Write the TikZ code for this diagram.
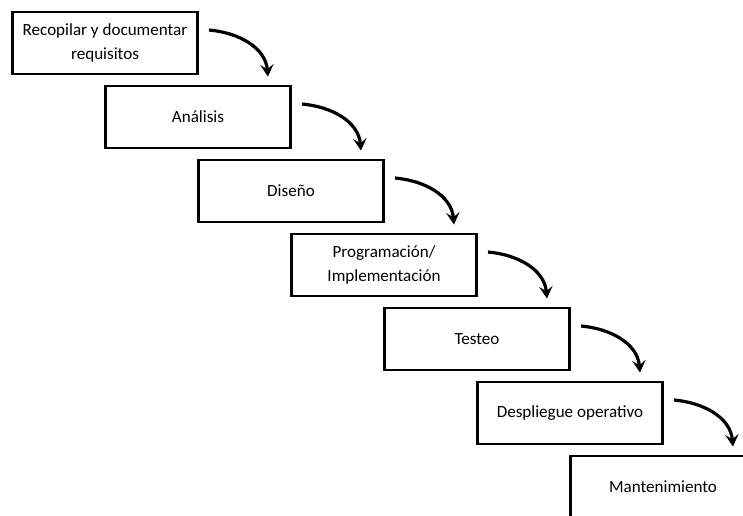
\documentclass[tikz,border=0pt]{standalone}
\usepackage{fontspec}
\setmainfont{Carlito}
\usetikzlibrary{arrows.meta}
\begin{document}
\begin{tikzpicture}[x=0.75pt, y=-0.75pt, node distance=55.5pt,
  box/.style = {draw, line width=2.2pt, minimum width=138.75pt, minimum height=46.5pt, inner sep=0pt, align=center, font=\fontsize{12.8}{18}\selectfont},
  flow/.style = {-{Stealth[length=9pt, width=10pt, inset=3.5pt]}, line width=2.4pt}]
\useasboundingbox (0,0) rectangle (743,515);
\node[box] (1) at (105,43) {Recopilar y documentar\\requisitos};
\node[box] (2) [below of=1, xshift=69.75pt] {Análisis};
\node[box] (3) [below of=2, xshift=69.75pt] {Diseño};
\node[box] (4) [below of=3, xshift=69.75pt] {Programación/\\Implementación};
\node[box] (5) [below of=4, xshift=69.75pt] {Testeo};
\node[box] (6) [below of=5, xshift=69.75pt] {Despliegue operativo};
\node[box] (7) [below of=6, xshift=69.75pt] {Mantenimiento};
\draw[flow] ([shift={(10,-13)}]1.east) to[out=-5, in=95] ([shift={(-24,-8)}]2.north east);
\draw[flow] ([shift={(10,-13)}]2.east) to[out=-5, in=95] ([shift={(-24,-8)}]3.north east);
\draw[flow] ([shift={(10,-13)}]3.east) to[out=-5, in=95] ([shift={(-24,-8)}]4.north east);
\draw[flow] ([shift={(10,-13)}]4.east) to[out=-5, in=95] ([shift={(-24,-8)}]5.north east);
\draw[flow] ([shift={(10,-13)}]5.east) to[out=-5, in=95] ([shift={(-24,-8)}]6.north east);
\draw[flow] ([shift={(10,-13)}]6.east) to[out=-5, in=95] ([shift={(-24,-8)}]7.north east);
\end{tikzpicture}
\end{document}
